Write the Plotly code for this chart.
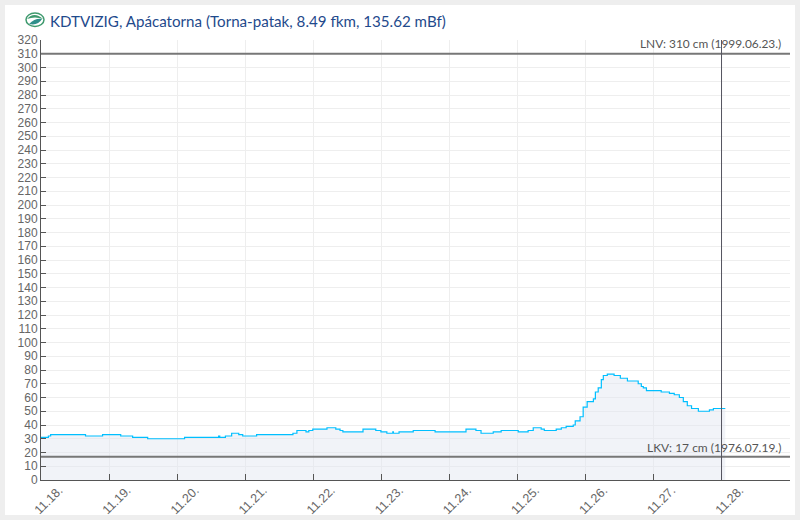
import pandas as pd
import plotly.graph_objects as go

START = pd.Timestamp("2023-11-18 00:00")
hours = [0, 2.6, 3.4, 15.7, 21.7, 28.1, 32.3, 37.6, 50.6, 62.6, 63, 65, 67.2, 69.7, 71.1, 76,
         88.8, 90.2, 93.4, 94.4, 95.8, 100.8, 103.9, 105.4, 106.4, 113.5, 118, 119.8, 121.9, 124, 124.2,
         126.2, 131.2, 138.9, 149.8, 153.3, 155.1, 159.4, 162.2, 168.2, 171.7, 173.5, 176.3, 177.4,
         181.6, 183.4, 185.1, 187.6, 188.3, 190, 191.1, 192.5, 194.7, 195.4, 196.4, 197.5, 198.2, 199.6,
         202, 204.2, 206.7, 210.5, 211.6, 212.3, 213.4, 218.6, 221.5, 223.2, 225, 226.4, 227.8, 229.3,
         231.7, 235.6, 237, 241.2]
levels = [31, 32, 33, 32, 33, 32, 31, 30, 31, 32, 31, 32, 34, 33, 32, 33,
          34, 36, 35, 36, 37, 38, 37, 36, 35, 37, 36, 35, 34, 35, 34,
          35, 36, 35, 37, 36, 34, 35, 36, 35, 36, 38, 37, 36,
          37, 38, 39, 40, 43, 46, 53, 57, 59, 64, 67, 73, 76, 77,
          76, 74, 72, 70, 68, 67, 65, 64, 63, 62, 60, 57, 54, 52,
          50, 51, 52, 52]
times = [START + pd.Timedelta(hours=h) for h in hours]

tick_days = ["2023-11-%02d" % d for d in range(18, 30)]
tick_text = ["11.%02d." % d for d in range(18, 29)] + [""]
y_ticks = list(range(0, 321, 10))
lnv_value, lkv_value = 310, 17
lnv_label = "LNV: 310 cm (1999.06.23.)"
lkv_label = "LKV: 17 cm (1976.07.19.)"
now_line = "2023-11-27 23:52"
title = "KDTVIZIG, Apácatorna (Torna-patak, 8.49 fkm, 135.62 mBf)"

W, H = 800, 520
L, R, T, B = 41, 790, 40, 480
px = lambda x: (x - L) / (R - L)
py = lambda y: (B - y) / (B - T)

fig = go.Figure()
fig.add_trace(go.Scatter(x=times, y=levels, mode="lines",
                         line=dict(color="#00bfff", width=1.2, shape="hv"),
                         fill="tozeroy", fillcolor="rgba(225,228,240,0.45)",
                         hoverinfo="skip", showlegend=False))

shapes = [
    dict(type="rect", xref="paper", yref="paper", x0=px(5), x1=px(795), y0=py(515), y1=py(5),
         fillcolor="white", line_width=0, layer="below"),
    dict(type="line", xref="paper", yref="y", x0=0, x1=1, y0=lnv_value, y1=lnv_value,
         line=dict(color="#777777", width=2)),
    dict(type="line", xref="paper", yref="y", x0=0, x1=1, y0=lkv_value, y1=lkv_value,
         line=dict(color="#777777", width=2)),
    dict(type="line", xref="x", yref="paper", x0=now_line, x1=now_line, y0=0, y1=1,
         line=dict(color="#555560", width=1)),
    # logo
    dict(type="circle", xref="paper", yref="paper", x0=px(26), x1=px(44), y0=py(26.5), y1=py(13),
         fillcolor="white", line=dict(color="#3f9a6e", width=1.5)),
    dict(type="path", xref="paper", yref="paper",
         path=f"M {px(27)},{py(19)} Q {px(34)},{py(11)} {px(43)},{py(19)} Q {px(35)},{py(16)} {px(27)},{py(19)} Z",
         fillcolor="#3f9a6e", line_width=0),
    dict(type="path", xref="paper", yref="paper",
         path=f"M {px(29)},{py(24)} Q {px(35)},{py(18)} {px(42)},{py(19)} Q {px(38)},{py(26)} {px(29)},{py(24)} Z",
         fillcolor="#2f8f8a", line_width=0),
]

annotations = [
    dict(text=title, xref="paper", yref="paper", x=px(48), y=py(21), xanchor="left", yanchor="middle",
         showarrow=False, font=dict(family="Lato", size=15.15, color="#1f4a8c")),
    dict(text=lnv_label, xref="paper", yref="paper", x=px(783), y=py(44), xanchor="right", yanchor="middle",
         showarrow=False, font=dict(family="Lato", size=11.9, color="#555555")),
    dict(text=lkv_label, xref="paper", yref="paper", x=px(783), y=py(447), xanchor="right", yanchor="middle",
         showarrow=False, font=dict(family="Lato", size=12, color="#555555")),
]

fig.update_layout(
    width=W, height=H, autosize=False,
    margin=dict(l=L, r=W - R, t=T, b=H - B),
    paper_bgcolor="#eeeeee", plot_bgcolor="white",
    shapes=shapes, annotations=annotations, showlegend=False,
    xaxis=dict(type="date", range=["2023-11-18", "2023-11-29"], tickmode="array", automargin=False,
               tickvals=tick_days, ticktext=tick_text, tickangle=-45, ticks="inside", ticklen=6,
               ticklabelshift=18, ticklabelstandoff=-3,
               tickcolor="#555555", showgrid=True, gridcolor="#eeeeee", gridwidth=1, showline=True,
               linecolor="#555555", linewidth=1, zeroline=False,
               tickfont=dict(family="Liberation Sans", size=12.5, color="#666666")),
    yaxis=dict(range=[0, 320], tickmode="array", tickvals=y_ticks, ticks="inside", ticklen=5, automargin=False,
               tickcolor="#555555", showgrid=True, gridcolor="#eeeeee", gridwidth=1, showline=True,
               linecolor="#555555", linewidth=1, zeroline=False,
               tickfont=dict(family="Liberation Sans", size=12, color="#666666")),
)
fig.write_html("out.html", config={"displayModeBar": False},
               post_script="document.body.style.margin='0';document.body.style.background='#eeeeee';")
